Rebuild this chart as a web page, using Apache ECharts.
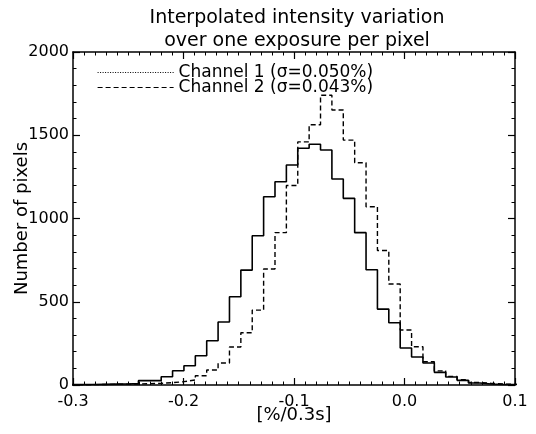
<!DOCTYPE html>
<html>
<head>
<meta charset="utf-8">
<script src="https://cdn.jsdelivr.net/npm/echarts@6/dist/echarts.min.js"></script>
<style>
html,body{margin:0;padding:0;background:#fff;}
#chart{width:536px;height:434px;}
</style>
</head>
<body>
<div id="chart"></div>
<script>
// Histogram bin left edges (last value = right edge of final bin), in %/0.3s
var binEdges = [-0.3026,-0.2923,-0.2820,-0.2717,-0.2614,-0.2511,-0.2408,-0.2305,-0.2202,-0.2099,
  -0.1996,-0.1893,-0.1790,-0.1687,-0.1584,-0.1481,-0.1378,-0.1275,-0.1172,-0.1069,
  -0.0966,-0.0863,-0.0760,-0.0657,-0.0554,-0.0451,-0.0348,-0.0245,-0.0142,-0.0039,
  0.0064,0.0167,0.0270,0.0373,0.0476,0.0579,0.0682,0.0785,0.0888,0.0991,0.1094];
// Counts per bin
var channel1 = [2,3,4,5,6,8,26,26,50,86,116,176,266,378,530,690,896,1131,1221,1321,
  1422,1446,1411,1237,1121,915,692,456,374,222,168,132,76,48,28,12,6,4,3,2];
var channel2 = [1,2,3,4,5,6,8,10,14,20,30,56,90,132,228,314,450,697,915,1198,
  1460,1563,1740,1652,1471,1335,1071,808,607,330,230,140,85,52,32,15,10,6,4,3];
var seriesNames = ['Channel 1 (\u03c3=0.050%)', 'Channel 2 (\u03c3=0.043%)'];
var xTicks = [-0.3, -0.2, -0.1, 0.0, 0.1];
var yTicks = [0, 500, 1000, 1500, 2000];

function stepData(counts) {
  var d = [];
  for (var i = 0; i < counts.length; i++) d.push([binEdges[i], counts[i]]);
  d.push([binEdges[counts.length], counts[counts.length - 1]]);
  return d;
}

var FONT = 'DejaVu Sans';
var chart = echarts.init(document.getElementById('chart'), null, {renderer: 'canvas'});

function xAxisCfg(pos, showLabels) {
  return {
    type: 'value', position: pos, min: xTicks[0], max: xTicks[xTicks.length - 1], interval: 0.1,
    axisLine: {show: true, onZero: false, lineStyle: {color: '#000', width: 1.5}},
    axisTick: {show: true, inside: true, length: 7, lineStyle: {color: '#000', width: 1.2}},
    minorTick: {show: true, splitNumber: 10, length: 3.5, lineStyle: {color: '#000', width: 1}},
    splitLine: {show: false}, minorSplitLine: {show: false},
    axisLabel: {show: showLabels, margin: 9, color: '#000', fontFamily: FONT, fontSize: 16,
      formatter: function (v) { return v.toFixed(1); }},
    name: showLabels ? '[%/0.3s]' : '', nameLocation: 'middle', nameGap: 21, nameMoveOverlap: false,
    nameTextStyle: {color: '#000', fontFamily: FONT, fontSize: 18}
  };
}
function yAxisCfg(pos, showLabels) {
  return {
    type: 'value', position: pos, min: yTicks[0], max: yTicks[yTicks.length - 1], interval: 500,
    axisLine: {show: true, onZero: false, lineStyle: {color: '#000', width: 1.5}},
    axisTick: {show: true, inside: true, length: 7, lineStyle: {color: '#000', width: 1.2}},
    minorTick: {show: true, splitNumber: 5, length: 3.5, lineStyle: {color: '#000', width: 1}},
    splitLine: {show: false}, minorSplitLine: {show: false},
    axisLabel: {show: showLabels, margin: 4, color: '#000', fontFamily: FONT, fontSize: 16,
      formatter: function (v) { return String(v); }},
    name: showLabels ? 'Number of pixels' : '', nameLocation: 'middle', nameGap: 42, nameMoveOverlap: false,
    nameTextStyle: {color: '#000', fontFamily: FONT, fontSize: 18}
  };
}

chart.setOption({
  animation: false,
  backgroundColor: '#fff',
  title: {
    text: 'Interpolated intensity variation\nover one exposure per pixel',
    left: 297, top: 7, textAlign: 'center', padding: 0,
    textStyle: {color: '#000', fontFamily: FONT, fontSize: 19, fontWeight: 'normal', lineHeight: 23}
  },
  grid: {left: 73, right: 21, top: 52, bottom: 49, containLabel: false, outerBoundsMode: 'none'},
  legend: {
    left: 97, top: 64, orient: 'vertical', itemWidth: 76, itemHeight: 14, itemGap: -2, padding: 0,
    textStyle: {color: '#000', fontFamily: FONT, fontSize: 17, lineHeight: 15},
    data: [
      {name: seriesNames[0], lineStyle: {type: [1, 1.5], width: 1, color: '#000'},
       itemStyle: {color: 'rgba(0,0,0,0)', borderColor: 'rgba(0,0,0,0)', borderWidth: 0}},
      {name: seriesNames[1], lineStyle: {type: [5, 3], width: 1.2, color: '#000'},
       itemStyle: {color: 'rgba(0,0,0,0)', borderColor: 'rgba(0,0,0,0)', borderWidth: 0}}
    ]
  },
  xAxis: [xAxisCfg('bottom', true), xAxisCfg('top', false)],
  yAxis: [yAxisCfg('left', true), yAxisCfg('right', false)],
  series: [
    {name: seriesNames[0], type: 'line', step: 'end', symbol: 'none', clip: true,
     xAxisIndex: 0, yAxisIndex: 0,
     lineStyle: {color: '#000', width: 1.6, type: 'solid'}, itemStyle: {color: '#000'},
     data: stepData(channel1)},
    {name: seriesNames[1], type: 'line', step: 'end', symbol: 'none', clip: true,
     xAxisIndex: 0, yAxisIndex: 0,
     lineStyle: {color: '#000', width: 1.4, type: [5, 3]}, itemStyle: {color: '#000'},
     data: stepData(channel2)}
  ]
});
</script>
</body>
</html>
